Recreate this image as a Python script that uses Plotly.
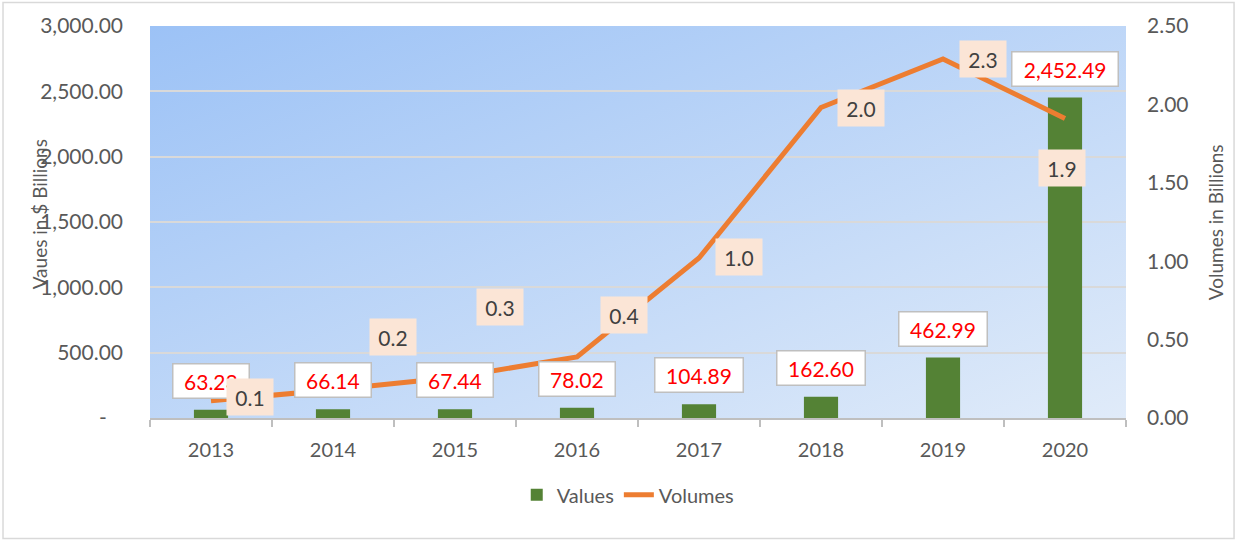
import base64
import plotly.graph_objects as go

# ---- data ----
years = ["2013", "2014", "2015", "2016", "2017", "2018", "2019", "2020"]
values = [63.23, 66.14, 67.44, 78.02, 104.89, 162.60, 462.99, 2452.49]   # $ billions
volumes = [0.11, 0.18, 0.26, 0.39, 1.02, 1.98, 2.29, 1.91]               # billions
volume_labels = ["0.1", "0.2", "0.3", "0.4", "1.0", "2.0", "2.3", "1.9"]
left_ticks = [0, 500, 1000, 1500, 2000, 2500, 3000]
right_ticks = [0, 0.5, 1.0, 1.5, 2.0, 2.5]

# ---- styles / positions (not data) ----
vol_label_shift = [(39, 4), (60, 53), (45, 70), (47, 42), (40, 1), (40, 0), (40, 0), (-3, -49)]
FONT = "Lato"
GREY = "#595959"
BAR_COLOR = "#548235"
LINE_COLOR = "#ed7d31"

fig = go.Figure()
fig.add_trace(go.Bar(x=years, y=values, name="Values", marker=dict(color=BAR_COLOR, line=dict(width=0)),
                     yaxis="y"))
fig.add_trace(go.Scatter(x=years, y=volumes, name="Volumes", mode="lines",
                         line=dict(color=LINE_COLOR, width=5), yaxis="y2"))


def text_w(s, size=20):
    w = 0
    for ch in s:
        w += 0.29 * size if ch in ",." else 0.58 * size
    return w


annotations = []
for i, v in enumerate(values):
    t = f"{v:,.2f}"
    annotations.append(dict(x=i, y=v, xref="x", yref="y", text=t, showarrow=False, yshift=29,
                            font=dict(family=FONT, size=21, color="#ff0000"),
                            bgcolor="white", bordercolor="#bfbfbf", borderwidth=1.5, borderpad=4,
                            width=text_w(t, 21) + 12, height=25))
for i, (v, lab, (dx, dy)) in enumerate(zip(volumes, volume_labels, vol_label_shift)):
    annotations.append(dict(x=i, y=v, xref="x", yref="y2", text=lab, showarrow=False,
                            xshift=dx, yshift=dy,
                            font=dict(family=FONT, size=21, color="#404040"),
                            bgcolor="#fbe5d6", borderpad=4, width=38, height=28))
annotations.append(dict(x=-0.113, xshift=-14, y=0.52, xref="paper", yref="paper",
                        text="Vaues in $ Billions",
                        textangle=-90, showarrow=False, font=dict(family=FONT, size=19, color=GREY)))
annotations.append(dict(x=1.093, xshift=12, y=0.5, xref="paper", yref="paper", text="Volumes in Billions",
                        textangle=-90, showarrow=False, font=dict(family=FONT, size=19, color=GREY)))

svg = ('<svg xmlns="http://www.w3.org/2000/svg" width="100" height="100" viewBox="0 0 100 100" '
       'preserveAspectRatio="none"><defs><linearGradient id="g" x1="0" y1="0" x2="1" y2="1">'
       '<stop offset="0" stop-color="#9cc2f6"/><stop offset="1" stop-color="#e0ebf9"/>'
       '</linearGradient></defs><rect width="100" height="100" fill="url(#g)"/></svg>')
svg_uri = "data:image/svg+xml;base64," + base64.b64encode(svg.encode()).decode()

fig.update_layout(
    width=1236, height=541,
    margin=dict(l=150, r=110, t=24, b=123),
    paper_bgcolor="white",
    plot_bgcolor="rgba(0,0,0,0)",
    font=dict(family=FONT, size=20, color=GREY),
    bargap=0.72,
    showlegend=True,
    legend=dict(orientation="h", x=0.49, xanchor="center", y=-0.196, yanchor="middle",
                font=dict(family=FONT, size=20, color=GREY), bgcolor="rgba(0,0,0,0)"),
    xaxis=dict(type="category", range=[-0.5, len(years) - 0.5], tickson="boundaries",
               ticks="outside", ticklen=7, ticklabelstandoff=13,
               tickcolor="#bfbfbf", tickwidth=1.5, showline=True, linecolor="#bfbfbf", linewidth=1.5,
               showgrid=False, tickfont=dict(family=FONT, size=20, color=GREY)),
    yaxis=dict(range=[0, 3000], tickvals=left_ticks,
               ticktext=["-\u00a0\u00a0\u00a0" if t == 0 else f"{t:,.2f}" for t in left_ticks],
               showgrid=True, gridcolor="#d9d9d9", gridwidth=1.5, zeroline=False,
               showline=False, ticks="", ticklabelstandoff=26,
               tickfont=dict(family=FONT, size=21, color=GREY)),
    yaxis2=dict(range=[0, 2.5], overlaying="y", side="right", tickvals=right_ticks,
                ticktext=[f"{t:.2f}" for t in right_ticks], showgrid=False, zeroline=False,
                showline=False, ticks="", ticklabelstandoff=20,
                tickfont=dict(family=FONT, size=21, color=GREY)),
    images=[dict(source=svg_uri, xref="paper", yref="paper", x=0, y=1, sizex=1, sizey=1,
                 sizing="stretch", xanchor="left", yanchor="top", layer="below")],
    shapes=[dict(type="rect", xref="paper", yref="paper", x0=-0.1506, x1=1.1107, y0=-0.3075, y1=1.0597,
                 line=dict(color="#d9d9d9", width=1.5), fillcolor="rgba(0,0,0,0)", layer="below")],
    annotations=annotations,
)

fig.write_html("out.html", config={"displayModeBar": False},
               post_script="document.body.style.margin='0px';")
